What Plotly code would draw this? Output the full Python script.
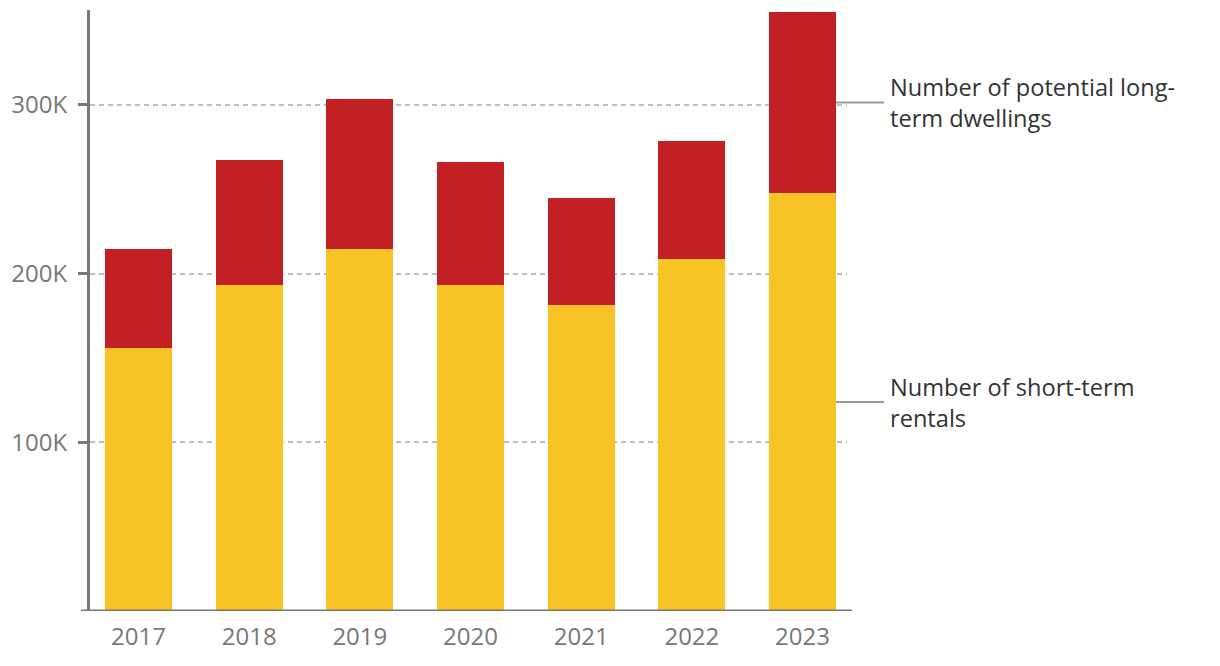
import plotly.graph_objects as go

years = ["2017", "2018", "2019", "2020", "2021", "2022", "2023"]
short_term_rentals = [155900, 193200, 214600, 193200, 181400, 208700, 247800]
long_term_dwellings = [58700, 74100, 88900, 73000, 63400, 69900, 107300]
y_tickvals = [100000, 200000, 300000]
y_ticktext = ["100K", "200K", "300K"]
label_rentals = "Number of short-term<br>rentals"
label_dwellings = "Number of potential long-<br>term dwellings"

YELLOW = "#F7C325"
RED = "#C32026"
AXIS = "#777777"
GRID = "#B8C0C4"

# page body has an 8px margin, so the figure is drawn 8px smaller and offset
OFF = 8
W, H = 1220 - OFF, 666 - OFF
L, T = 90 - OFF, 10 - OFF
plot_w, plot_h = 757, 601
R = W - L - plot_w
B = H - T - plot_h
bar_w = 0.605
x_lo, x_hi = -0.438, 6.402
y_max = 356300


def px_to_paper(px):
    return (px - 90) / plot_w


fig = go.Figure()
fig.add_trace(go.Bar(x=years, y=short_term_rentals, marker=dict(color=YELLOW, line=dict(width=0)),
                     width=bar_w, name="Short-term rentals"))
fig.add_trace(go.Bar(x=years, y=long_term_dwellings, marker=dict(color=RED, line=dict(width=0)),
                     width=bar_w, name="Potential long-term dwellings"))

# leader lines + labels at the mid of each segment of the last bar
last = len(years) - 1
mid_rent = short_term_rentals[last] / 2
mid_dwell = short_term_rentals[last] + long_term_dwellings[last] / 2
x_edge = (last + bar_w / 2 - x_lo) / (x_hi - x_lo)
x_end = px_to_paper(884)
for yv, txt in [(mid_rent, label_rentals), (mid_dwell, label_dwellings)]:
    fig.add_shape(type="line", xref="paper", yref="y", x0=x_edge, x1=x_end, y0=yv, y1=yv,
                  line=dict(color="#999999", width=2))
    fig.add_annotation(x=x_end, y=yv, xref="paper", yref="y", text=txt, showarrow=False,
                       xanchor="left", yanchor="middle", xshift=4, align="left",
                       font=dict(family="Open Sans", size=23.6, color="#333333"))

# extended x axis line
fig.add_shape(type="line", xref="paper", yref="y", x0=px_to_paper(81), x1=px_to_paper(852),
              y0=0, y1=0, line=dict(color=AXIS, width=3), layer="above")

fig.update_layout(
    barmode="stack", bargap=0.4,
    width=W, height=H, margin=dict(l=L, r=R, t=T, b=B, autoexpand=False),
    paper_bgcolor="white", plot_bgcolor="white",
    showlegend=False,
    font=dict(family="Open Sans", color=AXIS, size=24),
    xaxis=dict(type="category", range=[x_lo, x_hi], showline=False, showgrid=False,
               ticks="", tickfont=dict(size=24, color=AXIS), zeroline=False,
               ticklabelstandoff=9),
    yaxis=dict(range=[0, y_max], tickvals=y_tickvals, ticktext=y_ticktext,
               showline=True, linecolor=AXIS, linewidth=3,
               ticks="outside", ticklen=9, tickwidth=3, tickcolor=AXIS,
               showgrid=True, gridcolor=GRID, gridwidth=1.5, griddash="5px,4px",
               zeroline=False, tickfont=dict(size=24, color=AXIS), ticklabelstandoff=6),
)

fig.write_html("out.html")
